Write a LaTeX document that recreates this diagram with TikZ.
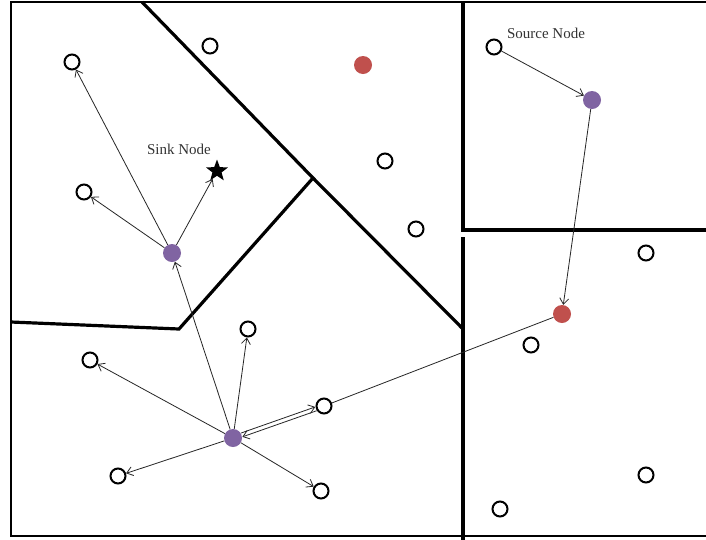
\documentclass[tikz,border=0pt]{standalone}
\usepackage{fontspec}
\setmainfont{Liberation Serif}
\usetikzlibrary{arrows.meta,shapes.geometric,calc}
\definecolor{nred}{HTML}{C0504D}
\definecolor{npurple}{HTML}{8064A2}
\tikzset{
  oc/.style={circle,draw=black,line width=2pt,minimum size=15pt,inner sep=0pt,fill=white},
  rc/.style={circle,fill=nred,minimum size=18pt,inner sep=0pt},
  pc/.style={circle,fill=npurple,minimum size=18pt,inner sep=0pt},
  sinkstar/.style={star,star points=5,star point ratio=2.4,fill=black,minimum size=23pt,inner sep=0pt},
  wall/.style={line width=3.2pt,line join=miter},
  frame/.style={line width=2.4pt},
  arr/.style={draw=black!85,line width=0.8pt,-{Straight Barb[length=6pt,width=9pt]}},
  lbl/.style={font=\fontsize{15}{17}\selectfont,text=black!80,inner sep=0pt}
}
\begin{document}
\begin{tikzpicture}[x=1pt,y=-1pt]
\clip (0,0) rectangle (706,539);
\fill[white] (0,0) rectangle (706,539);
% frame and partitions
\draw[frame] (11,2) rectangle (730,536);
\draw[wall] (142,2) -- (313,178) -- (462,328);
\draw[wall] (313,178) -- (179,329) -- (11,322);
\draw[wall] (463,2) -- (463,230) -- (710,230);
\draw[wall] (463,237) -- (463,540);
% nodes
\node[oc] (c1) at (72,62) {};
\node[oc] (c2) at (210,46) {};
\node[oc] (c3) at (84,192) {};
\node[oc] (c4) at (385,161) {};
\node[oc] (c5) at (416,229) {};
\node[oc] (src) at (494,47) {};
\node[oc] (c6) at (646,253) {};
\node[oc] (c7) at (248,329) {};
\node[oc] (c8) at (90,360) {};
\node[oc] (c9) at (324,406) {};
\node[oc] (c10) at (118,476) {};
\node[oc] (c11) at (321,491) {};
\node[oc] (c12) at (531,345) {};
\node[oc] (c13) at (646,475) {};
\node[oc] (c14) at (500,509) {};
\node[rc] (r1) at (363,65) {};
\node[rc] (r2) at (562,314) {};
\node[pc] (p1) at (592,100) {};
\node[pc] (p2) at (172,253) {};
\node[pc] (p3) at (233,438) {};
\node[sinkstar] (sink) at (217,171) {};
\node[lbl] (sinklbl) at (179,149) {Sink Node};
\node[lbl] (srclbl) at (546,33) {Source Node};
% connectors
\draw[arr] (src) -- (p1);
\draw[arr] (p1) -- (r2);
\draw[draw=black!85,line width=0.8pt] (r2) -- (c9);
\draw[arr,transform canvas={shift={(-0.7pt,1.9pt)}}] (p3) -- (c9);
\draw[arr,transform canvas={shift={(0.7pt,-1.9pt)}}] (c9) -- (p3);
\draw[arr] (p3) -- (p2);
\draw[arr] (p2) -- (c1);
\draw[arr] (p2) -- (c3);
\draw[arr] (p2) -- (sink);
\draw[arr] (p3) -- (c7);
\draw[arr] (p3) -- (c8);
\draw[arr] (p3) -- (c10);
\draw[arr] (p3) -- (c11);
\end{tikzpicture}
\end{document}
